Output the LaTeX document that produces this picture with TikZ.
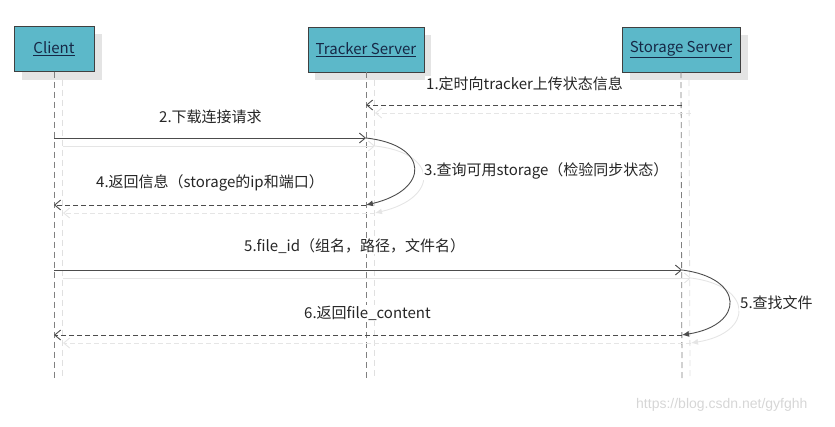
\documentclass[tikz,border=0pt]{standalone}
\usepackage{fontspec}
\setmainfont{Noto Sans CJK SC}
\newfontfamily\wmfont{Liberation Sans}
\usetikzlibrary{arrows.meta}
\definecolor{actorfill}{RGB}{92,184,201}
\definecolor{actortext}{RGB}{22,40,70}
\definecolor{shadowgray}{RGB}{228,228,228}
\begin{document}
\begin{tikzpicture}[x=1pt,y=-1pt,
  actor/.style={draw=black!75, fill=actorfill, minimum height=45pt, text=actortext, inner sep=0pt, font=\fontsize{15}{18}\selectfont},
  actorshadow/.style={fill=shadowgray, draw=none},
  life/.style={draw=black!50, line width=0.8pt, dash pattern=on 6pt off 4pt},
  lifeshadow/.style={draw=black!12, line width=0.8pt, dash pattern=on 6pt off 4pt},
  msg/.style={draw=black!70, line width=0.9pt, -{Straight Barb[length=6pt,width=10pt]}},
  retmsg/.style={msg, dash pattern=on 5pt off 3pt},
  loopmsg/.style={draw=black!70, line width=0.9pt, -{Latex[length=7pt,width=6pt]}},
  shmsg/.style={draw=black!10, line width=0.9pt, -{Straight Barb[length=6pt,width=10pt]}},
  shret/.style={shmsg, dash pattern=on 5pt off 3pt},
  shloop/.style={draw=black!10, line width=0.9pt, -{Latex[length=7pt,width=6pt]}},
  lbl/.style={anchor=west, fill=white, inner sep=1pt, text=black!85, font=\fontsize{15}{18}\selectfont}
]
\useasboundingbox (0,0) rectangle (835,426);

% box shadows
\fill[actorshadow] (22,34) rectangle (102,80);
\fill[actorshadow] (315,35) rectangle (431,80);
\fill[actorshadow] (630,35) rectangle (748,80);

% actors
\node[actor, minimum width=80pt] (client) at (54,49) {\underline{Client}};
\node[actor, minimum width=116pt] (tracker) at (366,49.5) {\underline{Tracker Server}};
\node[actor, minimum width=118pt] (storage) at (681,49.5) {\underline{Storage Server}};

% lifeline ends
\coordinate (cend) at (54,378);
\coordinate (tend) at (366,378);
\coordinate (send) at (682,378);

% lifeline shadows
\draw[lifeshadow] ([shift={(8,8)}]client.south) -- ([shift={(8,0)}]cend);
\draw[lifeshadow] ([shift={(8,8)}]tracker.south) -- ([shift={(8,0)}]tend);
\draw[lifeshadow] ([shift={(8,8)}]storage.south) -- ([shift={(8,0)}]send);

% lifelines
\draw[life] (client.south) -- (cend);
\draw[life] (tracker.south) -- (tend);
\draw[life] (storage.south) -- (send);

% message points
\coordinate (s1) at (682,105);
\coordinate (t1) at (366,105);
\coordinate (c2) at (54,138);
\coordinate (t2) at (366,138);
\coordinate (t4) at (366,205);
\coordinate (c4) at (54,205);
\coordinate (c5) at (54,270);
\coordinate (s5) at (682,270);
\coordinate (s6) at (682,335);
\coordinate (c6) at (54,335);

% shadows of messages
\draw[shret] ([shift={(9,8)}]s1) -- ([shift={(9,8)}]t1);
\draw[shmsg] ([shift={(9,8)}]c2) -- ([shift={(9,8)}]t2);
\draw[shloop] ([shift={(9,8)}]t2) .. controls ([shift={(73,15)}]t2) and ([shift={(73,60)}]t2) .. ([shift={(9,8)}]t4);
\draw[shret] ([shift={(9,8)}]t4) -- ([shift={(9,8)}]c4);
\draw[shmsg] ([shift={(9,8)}]c5) -- ([shift={(9,8)}]s5);
\draw[shloop] ([shift={(9,8)}]s5) .. controls ([shift={(72,16)}]s5) and ([shift={(72,63)}]s5) .. ([shift={(9,8)}]s6);
\draw[shret] ([shift={(9,8)}]s6) -- ([shift={(9,8)}]c6);

% messages
\draw[retmsg] (s1) -- (t1);
\draw[msg] (c2) -- (t2);
\draw[loopmsg] (t2) .. controls ([shift={(64,7)}]t2) and ([shift={(64,52)}]t2) .. (t4);
\draw[retmsg] (t4) -- (c4);
\draw[msg] (c5) -- (s5);
\draw[loopmsg] (s5) .. controls ([shift={(63,8)}]s5) and ([shift={(63,55)}]s5) .. (s6);
\draw[retmsg] (s6) -- (c6);

% labels
\node[lbl] (l1) at (425,84) {1.定时向tracker上传状态信息};
\node[lbl] (l2) at (158,117) {2.下载连接请求};
\node[lbl] (l3) at (423,171) {3.查询可用storage（检验同步状态）};
\node[lbl] (l4) at (95,183) {4.返回信息（storage的ip和端口）};
\node[lbl] (l5) at (243,246) {5.file\_id（组名，路径，文件名）};
\node[lbl] (l6) at (303,313) {6.返回file\_content};
\node[lbl] (l7) at (739,303) {5.查找文件};

% watermark
\node[anchor=west, text=black!16, font=\wmfont\fontsize{14}{16}\selectfont, inner sep=0pt] (wm) at (636,405) {https://blog.csdn.net/gyfghh};
\end{tikzpicture}
\end{document}
